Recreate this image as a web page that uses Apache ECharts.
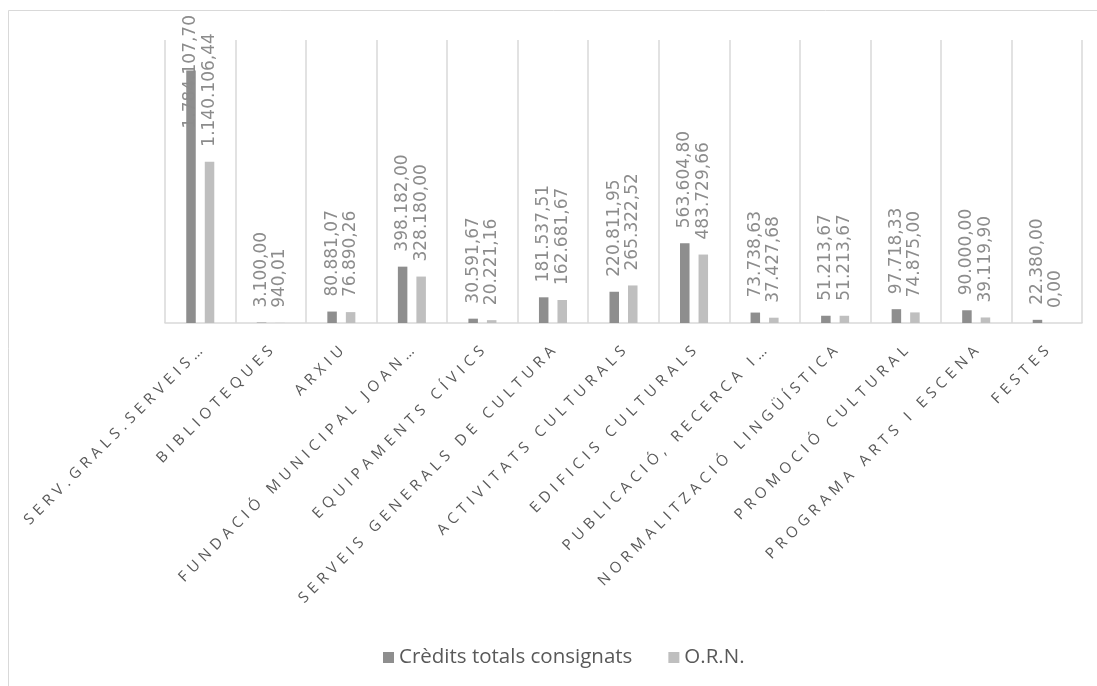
<!DOCTYPE html>
<html>
<head>
<meta charset="utf-8">
<script src="https://cdn.jsdelivr.net/npm/echarts@6/dist/echarts.min.js"></script>
<style>html,body{margin:0;padding:0;background:#fff;}#c{width:1097px;height:686px;}</style>
</head>
<body>
<div id="c"></div>
<script>
var categories = ['SERV.GRALS.SERVEIS…','BIBLIOTEQUES','ARXIU','FUNDACIÓ MUNICIPAL JOAN…','EQUIPAMENTS CÍVICS','SERVEIS GENERALS DE CULTURA','ACTIVITATS CULTURALS','EDIFICIS CULTURALS','PUBLICACIÓ, RECERCA I…','NORMALITZACIÓ LINGÜÍSTICA','PROMOCIÓ CULTURAL','PROGRAMA ARTS I ESCENA','FESTES'];
var seriesNames = ['Crèdits totals consignats','O.R.N.'];
var credits = [1784107.70, 3100.00, 80881.07, 398182.00, 30591.67, 181537.51, 220811.95, 563604.80, 73738.63, 51213.67, 97718.33, 90000.00, 22380.00];
var orn = [1140106.44, 940.01, 76890.26, 328180.00, 20221.16, 162681.67, 265322.52, 483729.66, 37427.68, 51213.67, 74875.00, 39119.90, 0.00];

function fmt(v){
  var s = Number(v).toFixed(2).split('.');
  var i = s[0].replace(/\B(?=(\d{3})+(?!\d))/g, '.');
  return i + ',' + s[1];
}
function spaced(t){ return t.split('').join('\u2004'); }

var chart = echarts.init(document.getElementById('c'), null, {renderer:'canvas'});
var labelCfg = {
  show: true, position: 'top', rotate: 90, align: 'left', verticalAlign: 'middle',
  distance: 15, color: '#8c8c8c', fontFamily: 'DejaVu Sans', fontSize: 17,
  formatter: function(p){ return fmt(p.value); }
};
function keepInside(p){
  if (p.labelRect && p.labelRect.y < 15) {
    return {y: 15 + p.labelRect.height};
  }
  return {};
}
chart.setOption({
  animation: false,
  backgroundColor: '#ffffff',
  graphic: [{type:'rect', shape:{x:8.5,y:10.5,width:1200,height:1000}, style:{fill:'none', stroke:'#d9d9d9', lineWidth:1}, silent:true}],
  legend: {
    left: 378, top: 642, icon: 'rect', itemWidth: 11, itemHeight: 11, itemGap: 36,
    textStyle: {color:'#595959', fontFamily:'Open Sans', fontSize: 20.5},
    data: seriesNames
  },
  grid: {left: 165, right: 15, top: 40, bottom: 363, containLabel: false, outerBoundsMode: 'none'},
  xAxis: {
    type: 'category', data: categories,
    axisTick: {show:false},
    axisLine: {lineStyle:{color:'#d9d9d9', width:1.5}},
    splitLine: {show:true, lineStyle:{color:'#d9d9d9', width:1.5}},
    axisLabel: {rotate:45, interval:0, margin:26, color:'#595959', fontFamily:'Open Sans', fontSize:15,
      formatter: function(v){ return spaced(v); }}
  },
  yAxis: {type:'value', min:0, max:2000000, show:false, splitLine:{show:false}},
  series: [
    {name: seriesNames[0], type:'bar', data: credits, barWidth: 9.5, barGap: '95%', itemStyle:{color:'#8e8e8e'}, label: labelCfg, labelLayout: keepInside},
    {name: seriesNames[1], type:'bar', data: orn, barWidth: 9.5, itemStyle:{color:'#bfbfbf'}, label: labelCfg, labelLayout: keepInside}
  ]
});
</script>
</body>
</html>
